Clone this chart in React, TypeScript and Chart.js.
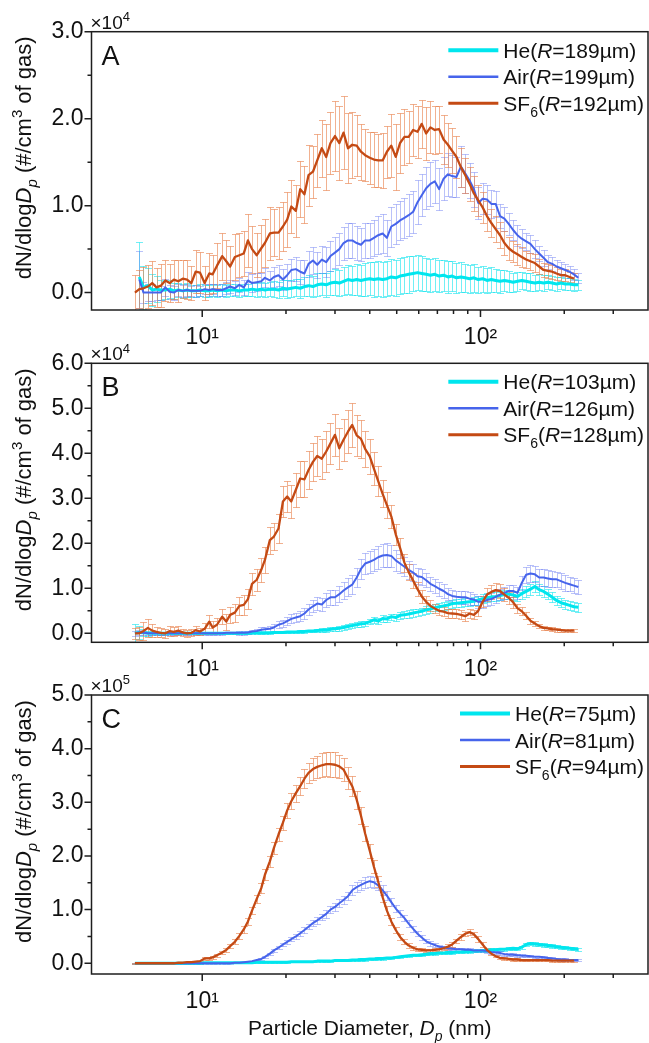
import React, { useEffect, useRef } from 'react';
import { Chart, registerables } from 'chart.js';
Chart.register(...registerables);

// ---------------- data ----------------
const DIAMETER_NM = [
  5.73, 5.94, 6.15, 6.38, 6.61, 6.85, 7.10, 7.37, 7.64, 7.91,
  8.20, 8.51, 8.82, 9.14, 9.47, 9.82, 10.2, 10.6, 10.9, 11.3,
  11.8, 12.2, 12.6, 13.1, 13.6, 14.1, 14.6, 15.1, 15.7, 16.3,
  16.8, 17.5, 18.1, 18.8, 19.5, 20.2, 20.9, 21.7, 22.5, 23.3,
  24.1, 25.0, 25.9, 26.9, 27.9, 28.9, 30.0, 31.1, 32.2, 33.4,
  34.6, 35.9, 37.2, 38.5, 40.0, 41.4, 42.9, 44.5, 46.1, 47.8,
  49.6, 51.4, 53.3, 55.2, 57.3, 59.4, 61.5, 63.8, 66.1, 68.5,
  71.0, 73.7, 76.4, 79.1, 82.0, 85.1, 88.2, 91.4, 94.7, 98.2,
  101.8, 105.5, 109.4, 113.4, 117.6, 121.9, 126.3, 131.0, 135.8, 140.7,
  145.9, 151.2, 156.8, 162.5, 168.5, 174.7, 181.1, 187.7, 194.6, 201.7,
  209.1, 216.7, 224.7,
];

const X_MAJOR_TICKS = [10, 100];
const X_TICK_LABELS = ['10¹', '10²'];
const X_MINOR_TICKS = [20, 30, 40, 50, 60, 70, 80, 90, 200, 300];

const GASES = ['He', 'Air', 'SF6'];
const PANEL_LETTERS = ['A', 'B', 'C'];
const RADII_A = [189, 199, 192];
const RADII_B = [103, 126, 128];
const RADII_C = [75, 81, 94];
const Y_MAX = [3, 6, 5];
const Y_EXPONENT = [4, 4, 5];

// Panel A (x10^4 #/cm3)
const A_HE = [
  null, 0.18, 0.06, 0.08, 0.03, 0.04, 0.03, 0.03, 0.04, 0.02,
  0.03, 0.02, 0.03, 0.02, 0.02, 0.03, 0.02, 0.02, 0.03, 0.02,
  0.03, 0.02, 0.03, 0.03, 0.02, 0.03, 0.03, 0.04, 0.03, 0.04,
  0.03, 0.04, 0.04, 0.03, 0.05, 0.04, 0.05, 0.06, 0.05, 0.07,
  0.08, 0.07, 0.09, 0.10, 0.09, 0.11, 0.12, 0.11, 0.13, 0.15,
  0.14, 0.15, 0.14, 0.15, 0.16, 0.15, 0.16, 0.15, 0.16, 0.18,
  0.17, 0.19, 0.20, 0.21, 0.22, 0.23, 0.22, 0.21, 0.20, 0.21,
  0.19, 0.20, 0.18, 0.19, 0.17, 0.18, 0.17, 0.16, 0.17, 0.15,
  0.16, 0.14, 0.15, 0.14, 0.13, 0.14, 0.13, 0.12, 0.13, 0.14,
  0.13, 0.12, 0.11, 0.12, 0.11, 0.12, 0.11, 0.10, 0.11, 0.10,
  0.10, 0.09, 0.09,
];
const A_AIR = [
  null, 0.15, 0.00, 0.00, 0.00, 0.00, 0.00, 0.06, 0.01, 0.00,
  0.03, 0.02, 0.03, 0.02, 0.02, 0.02, 0.04, 0.03, 0.04, 0.03,
  0.03, 0.05, 0.07, 0.05, 0.09, 0.06, 0.14, 0.11, 0.12, 0.13,
  0.17, 0.14, 0.18, 0.20, 0.15, 0.20, 0.26, 0.27, 0.24, 0.22,
  0.33, 0.37, 0.32, 0.38, 0.35, 0.42, 0.46, 0.50, 0.57, 0.60,
  0.60, 0.57, 0.55, 0.60, 0.60, 0.63, 0.66, 0.68, 0.63, 0.76,
  0.79, 0.83, 0.86, 0.89, 0.93, 1.04, 1.12, 1.20, 1.25, 1.28,
  1.19, 1.31, 1.36, 1.34, 1.33, 1.45, 1.37, 1.29, 1.19, 1.03,
  1.08, 1.07, 1.02, 1.02, 0.88, 0.85, 0.79, 0.72, 0.66, 0.62,
  0.59, 0.56, 0.50, 0.45, 0.40, 0.35, 0.33, 0.30, 0.28, 0.26,
  0.24, 0.21, 0.17,
];
const A_SF6 = [
  0.00, 0.04, 0.05, 0.07, 0.11, 0.06, 0.08, 0.14, 0.11, 0.15,
  0.13, 0.16, 0.15, 0.11, 0.24, 0.23, 0.11, 0.22, 0.21, 0.31,
  0.42, 0.36, 0.30, 0.41, 0.43, 0.45, 0.60, 0.50, 0.43, 0.51,
  0.57, 0.68, 0.69, 0.69, 0.76, 0.84, 0.99, 0.94, 1.19, 1.13,
  1.35, 1.39, 1.52, 1.66, 1.56, 1.72, 1.80, 1.72, 1.84, 1.66,
  1.70, 1.69, 1.62, 1.58, 1.55, 1.53, 1.52, 1.52, 1.62, 1.69,
  1.56, 1.72, 1.79, 1.79, 1.87, 1.85, 1.94, 1.83, 1.90, 1.87,
  1.88, 1.76, 1.70, 1.63, 1.56, 1.44, 1.35, 1.25, 1.14, 1.06,
  0.98, 0.88, 0.80, 0.73, 0.66, 0.57, 0.51, 0.47, 0.44, 0.41,
  0.38, 0.36, 0.34, 0.30, 0.26, 0.25, 0.24, 0.22, 0.20, 0.20,
  0.18, 0.16, null,
];
const A_HE_ERR = [
  null, 0.40, 0.25, 0.20, 0.18, 0.15, 0.12, 0.10, 0.10, 0.09,
  0.08, 0.08, 0.08, 0.07, 0.07, 0.07, 0.07, 0.07, 0.07, 0.07,
  0.07, 0.07, 0.07, 0.07, 0.07, 0.07, 0.07, 0.08, 0.08, 0.08,
  0.08, 0.08, 0.09, 0.09, 0.09, 0.10, 0.10, 0.10, 0.11, 0.11,
  0.12, 0.12, 0.13, 0.13, 0.14, 0.14, 0.15, 0.15, 0.16, 0.17,
  0.17, 0.18, 0.18, 0.19, 0.19, 0.20, 0.20, 0.20, 0.20, 0.21,
  0.21, 0.21, 0.21, 0.21, 0.20, 0.20, 0.20, 0.19, 0.19, 0.19,
  0.18, 0.18, 0.18, 0.17, 0.17, 0.17, 0.16, 0.16, 0.16, 0.15,
  0.15, 0.14, 0.14, 0.13, 0.13, 0.12, 0.12, 0.11, 0.11, 0.10,
  0.10, 0.10, 0.09, 0.09, 0.09, 0.08, 0.08, 0.08, 0.07, 0.07,
  0.07, 0.07, 0.06,
];
const A_AIR_ERR = [
  null, 0.33, 0.12, 0.10, 0.10, 0.08, 0.08, 0.10, 0.08, 0.08,
  0.07, 0.07, 0.07, 0.06, 0.07, 0.06, 0.06, 0.07, 0.06, 0.07,
  0.07, 0.07, 0.08, 0.08, 0.08, 0.09, 0.10, 0.10, 0.10, 0.10,
  0.11, 0.11, 0.12, 0.12, 0.12, 0.13, 0.13, 0.14, 0.14, 0.15,
  0.15, 0.16, 0.15, 0.16, 0.17, 0.17, 0.18, 0.18, 0.19, 0.20,
  0.20, 0.20, 0.19, 0.20, 0.20, 0.21, 0.22, 0.22, 0.21, 0.23,
  0.23, 0.22, 0.23, 0.24, 0.24, 0.25, 0.24, 0.24, 0.25, 0.25,
  0.24, 0.25, 0.25, 0.24, 0.23, 0.24, 0.22, 0.20, 0.20, 0.18,
  0.18, 0.17, 0.16, 0.15, 0.14, 0.14, 0.13, 0.12, 0.12, 0.11,
  0.10, 0.10, 0.10, 0.09, 0.09, 0.08, 0.08, 0.08, 0.07, 0.07,
  0.07, 0.06, 0.06,
];
const A_SF6_ERR = [
  0.20, 0.22, 0.25, 0.25, 0.25, 0.22, 0.25, 0.24, 0.22, 0.22,
  0.24, 0.22, 0.22, 0.20, 0.25, 0.24, 0.20, 0.24, 0.22, 0.26,
  0.27, 0.25, 0.24, 0.26, 0.25, 0.26, 0.30, 0.27, 0.25, 0.27,
  0.28, 0.30, 0.27, 0.30, 0.28, 0.32, 0.30, 0.30, 0.32, 0.33,
  0.35, 0.30, 0.30, 0.33, 0.38, 0.36, 0.40, 0.42, 0.42, 0.40,
  0.38, 0.35, 0.32, 0.30, 0.30, 0.32, 0.30, 0.32, 0.30, 0.36,
  0.38, 0.35, 0.32, 0.30, 0.30, 0.30, 0.28, 0.30, 0.30, 0.28,
  0.27, 0.28, 0.25, 0.26, 0.24, 0.22, 0.20, 0.20, 0.20, 0.18,
  0.18, 0.17, 0.16, 0.15, 0.15, 0.14, 0.13, 0.12, 0.12, 0.11,
  0.10, 0.10, 0.10, 0.09, 0.08, 0.08, 0.08, 0.07, 0.07, 0.07,
  0.06, 0.06, null,
];

// Panel B (x10^4 #/cm3)
const B_HE = [
  0.00, 0.02, 0.01, 0.00, 0.00, 0.00, 0.00, 0.00, 0.00, 0.00,
  0.00, 0.00, 0.00, 0.00, 0.00, 0.00, 0.00, 0.00, 0.00, 0.00,
  0.00, 0.00, 0.00, 0.00, 0.00, 0.00, 0.00, 0.01, 0.01, 0.01,
  0.01, 0.01, 0.02, 0.02, 0.02, 0.03, 0.03, 0.03, 0.04, 0.04,
  0.05, 0.05, 0.06, 0.07, 0.07, 0.09, 0.10, 0.11, 0.13, 0.15,
  0.17, 0.19, 0.21, 0.22, 0.26, 0.30, 0.27, 0.33, 0.32, 0.37,
  0.35, 0.40, 0.41, 0.43, 0.45, 0.47, 0.49, 0.52, 0.54, 0.57,
  0.59, 0.61, 0.63, 0.66, 0.67, 0.68, 0.69, 0.70, 0.71, 0.74,
  0.77, 0.79, 0.81, 0.82, 0.84, 0.86, 0.87, 0.85, 0.82, 0.88,
  0.93, 0.98, 1.04, 0.97, 0.93, 0.87, 0.80, 0.73, 0.68, 0.65,
  0.62, 0.59, 0.58,
];
const B_AIR = [
  0.00, 0.02, 0.01, 0.00, 0.00, 0.00, 0.00, 0.00, 0.00, 0.00,
  0.00, 0.00, 0.00, 0.00, 0.00, 0.00, 0.00, 0.00, 0.00, 0.00,
  0.00, 0.01, 0.01, 0.01, 0.01, 0.01, 0.02, 0.04, 0.05, 0.08,
  0.09, 0.10, 0.13, 0.19, 0.22, 0.27, 0.32, 0.35, 0.38, 0.44,
  0.53, 0.60, 0.66, 0.64, 0.74, 0.80, 0.80, 0.87, 0.95, 1.02,
  1.08, 1.24, 1.43, 1.55, 1.59, 1.63, 1.69, 1.73, 1.74, 1.72,
  1.62, 1.55, 1.48, 1.41, 1.35, 1.27, 1.25, 1.18, 1.10, 1.05,
  0.99, 0.94, 0.87, 0.83, 0.81, 0.80, 0.80, 0.77, 0.75, 0.70,
  0.70, 0.74, 0.76, 0.81, 0.86, 0.90, 0.94, 0.94, 0.90, 1.12,
  1.30, 1.33, 1.31, 1.24, 1.24, 1.22, 1.20, 1.20, 1.16, 1.12,
  1.09, 1.06, 1.03,
];
const B_SF6 = [
  0.00, 0.00, 0.05, 0.12, 0.06, 0.03, 0.01, 0.00, 0.05, 0.03,
  0.06, 0.02, 0.00, 0.01, 0.07, 0.04, 0.10, 0.26, 0.13, 0.19,
  0.37, 0.26, 0.41, 0.46, 0.61, 0.63, 0.76, 1.10, 1.19, 1.41,
  1.63, 2.07, 2.15, 2.33, 2.93, 3.04, 2.93, 3.19, 3.44, 3.42,
  3.63, 3.81, 3.94, 3.88, 4.04, 4.22, 4.41, 4.11, 4.30, 4.48,
  4.63, 4.40, 4.32, 4.10, 3.93, 3.66, 3.38, 3.10, 2.85, 2.60,
  2.20, 1.90, 1.57, 1.36, 1.17, 0.98, 0.82, 0.70, 0.61, 0.55,
  0.50, 0.48, 0.45, 0.44, 0.43, 0.41, 0.38, 0.44, 0.41, 0.50,
  0.70, 0.86, 0.92, 0.96, 0.94, 0.86, 0.79, 0.69, 0.56, 0.49,
  0.39, 0.28, 0.22, 0.16, 0.12, 0.11, 0.09, 0.08, 0.07, 0.06,
  0.06, 0.06, null,
];
const B_HE_ERR = [
  0.20, 0.15, 0.08, 0.05, 0.04, 0.03, 0.03, 0.03, 0.02, 0.02,
  0.02, 0.02, 0.02, 0.02, 0.02, 0.02, 0.02, 0.02, 0.02, 0.02,
  0.02, 0.02, 0.02, 0.02, 0.02, 0.02, 0.02, 0.02, 0.02, 0.02,
  0.02, 0.02, 0.02, 0.02, 0.02, 0.03, 0.03, 0.03, 0.03, 0.03,
  0.03, 0.03, 0.04, 0.04, 0.04, 0.04, 0.05, 0.05, 0.05, 0.05,
  0.05, 0.06, 0.06, 0.06, 0.06, 0.07, 0.07, 0.07, 0.07, 0.07,
  0.07, 0.08, 0.08, 0.08, 0.08, 0.08, 0.08, 0.08, 0.08, 0.08,
  0.08, 0.09, 0.09, 0.09, 0.09, 0.09, 0.09, 0.09, 0.09, 0.10,
  0.10, 0.10, 0.10, 0.10, 0.10, 0.10, 0.10, 0.10, 0.10, 0.11,
  0.12, 0.12, 0.12, 0.12, 0.12, 0.11, 0.11, 0.11, 0.10, 0.10,
  0.10, 0.10, 0.10,
];
const B_AIR_ERR = [
  0.05, 0.06, 0.05, 0.04, 0.04, 0.03, 0.03, 0.03, 0.03, 0.03,
  0.03, 0.03, 0.03, 0.03, 0.03, 0.03, 0.03, 0.03, 0.03, 0.03,
  0.03, 0.03, 0.03, 0.03, 0.04, 0.04, 0.04, 0.04, 0.05, 0.05,
  0.06, 0.06, 0.07, 0.08, 0.08, 0.09, 0.10, 0.10, 0.11, 0.12,
  0.12, 0.13, 0.14, 0.15, 0.15, 0.16, 0.17, 0.18, 0.19, 0.20,
  0.21, 0.22, 0.23, 0.24, 0.25, 0.25, 0.26, 0.26, 0.26, 0.25,
  0.24, 0.22, 0.21, 0.20, 0.19, 0.18, 0.17, 0.16, 0.16, 0.15,
  0.15, 0.15, 0.14, 0.14, 0.14, 0.14, 0.14, 0.14, 0.13, 0.13,
  0.13, 0.13, 0.13, 0.13, 0.13, 0.13, 0.13, 0.13, 0.13, 0.15,
  0.18, 0.18, 0.18, 0.18, 0.18, 0.18, 0.18, 0.17, 0.17, 0.17,
  0.16, 0.16, 0.16,
];
const B_SF6_ERR = [
  0.12, 0.15, 0.20, 0.20, 0.15, 0.12, 0.10, 0.10, 0.12, 0.10,
  0.10, 0.08, 0.08, 0.08, 0.10, 0.08, 0.12, 0.15, 0.14, 0.16,
  0.16, 0.18, 0.18, 0.20, 0.20, 0.22, 0.22, 0.24, 0.25, 0.26,
  0.28, 0.30, 0.30, 0.32, 0.35, 0.35, 0.36, 0.38, 0.40, 0.40,
  0.42, 0.42, 0.44, 0.44, 0.45, 0.46, 0.46, 0.45, 0.46, 0.48,
  0.48, 0.45, 0.42, 0.40, 0.38, 0.36, 0.33, 0.30, 0.28, 0.26,
  0.24, 0.22, 0.20, 0.18, 0.16, 0.15, 0.14, 0.13, 0.12, 0.10,
  0.10, 0.10, 0.10, 0.10, 0.10, 0.10, 0.10, 0.10, 0.10, 0.11,
  0.12, 0.14, 0.15, 0.15, 0.15, 0.14, 0.13, 0.12, 0.10, 0.09,
  0.08, 0.07, 0.06, 0.05, 0.05, 0.04, 0.04, 0.04, 0.03, 0.03,
  0.03, 0.03, null,
];

// Panel C (x10^5 #/cm3)
const C_HE = [
  0.00, 0.00, 0.00, 0.00, 0.00, 0.00, 0.00, 0.00, 0.00, 0.00,
  0.00, 0.00, 0.00, 0.00, 0.00, 0.00, 0.01, 0.01, 0.01, 0.01,
  0.01, 0.01, 0.01, 0.01, 0.01, 0.01, 0.01, 0.01, 0.02, 0.02,
  0.02, 0.02, 0.02, 0.02, 0.02, 0.02, 0.03, 0.03, 0.03, 0.03,
  0.03, 0.03, 0.04, 0.04, 0.04, 0.04, 0.05, 0.05, 0.05, 0.05,
  0.06, 0.06, 0.07, 0.07, 0.08, 0.08, 0.09, 0.09, 0.10, 0.10,
  0.11, 0.12, 0.13, 0.14, 0.15, 0.15, 0.16, 0.17, 0.18, 0.18,
  0.19, 0.19, 0.20, 0.20, 0.21, 0.21, 0.22, 0.22, 0.23, 0.23,
  0.24, 0.24, 0.25, 0.25, 0.26, 0.26, 0.27, 0.28, 0.27, 0.30,
  0.35, 0.37, 0.36, 0.35, 0.34, 0.33, 0.32, 0.31, 0.30, 0.29,
  0.28, 0.27, 0.26,
];
const C_AIR = [
  0.00, 0.00, 0.00, 0.00, 0.00, 0.00, 0.00, 0.00, 0.00, 0.00,
  0.00, 0.00, 0.00, 0.00, 0.00, 0.00, 0.00, 0.00, 0.00, 0.00,
  0.00, 0.00, 0.00, 0.01, 0.01, 0.02, 0.03, 0.04, 0.06, 0.08,
  0.12, 0.18, 0.24, 0.29, 0.35, 0.40, 0.45, 0.50, 0.56, 0.62,
  0.68, 0.75, 0.80, 0.86, 0.92, 1.00, 1.05, 1.12, 1.18, 1.25,
  1.36, 1.42, 1.46, 1.50, 1.53, 1.51, 1.45, 1.36, 1.26, 1.14,
  1.02, 0.93, 0.84, 0.74, 0.64, 0.55, 0.48, 0.41, 0.37, 0.34,
  0.31, 0.30, 0.28, 0.27, 0.26, 0.26, 0.25, 0.25, 0.24, 0.24,
  0.24, 0.23, 0.21, 0.20, 0.19, 0.17, 0.16, 0.16, 0.15, 0.14,
  0.14, 0.13, 0.12, 0.12, 0.11, 0.10, 0.09, 0.08, 0.07, 0.07,
  0.06, 0.06, 0.06,
];
const C_SF6 = [
  0.00, 0.00, 0.00, 0.00, 0.00, 0.00, 0.00, 0.00, 0.00, 0.00,
  0.01, 0.01, 0.02, 0.02, 0.03, 0.04, 0.09, 0.09, 0.11, 0.15,
  0.20, 0.25, 0.32, 0.40, 0.51, 0.63, 0.78, 0.98, 1.20, 1.40,
  1.65, 1.90, 2.15, 2.40, 2.62, 2.85, 3.02, 3.17, 3.30, 3.44,
  3.55, 3.62, 3.66, 3.69, 3.71, 3.71, 3.70, 3.67, 3.61, 3.45,
  3.30, 3.05, 2.75, 2.42, 2.10, 1.80, 1.52, 1.23, 0.98, 0.78,
  0.62, 0.49, 0.40, 0.33, 0.29, 0.26, 0.25, 0.24, 0.24, 0.25,
  0.26, 0.28, 0.31, 0.35, 0.42, 0.49, 0.55, 0.58, 0.54, 0.45,
  0.35, 0.25, 0.18, 0.13, 0.10, 0.09, 0.08, 0.07, 0.07, 0.06,
  0.06, 0.06, 0.06, 0.06, 0.06, 0.06, 0.05, 0.05, 0.05, 0.05,
  0.05, 0.05, null,
];
const C_HE_ERR = [
  0.01, 0.01, 0.01, 0.01, 0.01, 0.01, 0.01, 0.01, 0.01, 0.01,
  0.01, 0.01, 0.01, 0.01, 0.01, 0.01, 0.01, 0.01, 0.01, 0.01,
  0.01, 0.01, 0.01, 0.01, 0.01, 0.01, 0.01, 0.01, 0.01, 0.01,
  0.01, 0.01, 0.01, 0.01, 0.01, 0.01, 0.01, 0.01, 0.01, 0.01,
  0.01, 0.01, 0.01, 0.01, 0.01, 0.01, 0.01, 0.01, 0.01, 0.01,
  0.02, 0.02, 0.02, 0.02, 0.02, 0.02, 0.02, 0.02, 0.02, 0.02,
  0.02, 0.02, 0.02, 0.02, 0.02, 0.02, 0.02, 0.02, 0.02, 0.02,
  0.02, 0.02, 0.02, 0.02, 0.02, 0.02, 0.02, 0.02, 0.02, 0.02,
  0.03, 0.03, 0.03, 0.03, 0.03, 0.03, 0.03, 0.03, 0.03, 0.03,
  0.03, 0.03, 0.03, 0.03, 0.03, 0.03, 0.03, 0.03, 0.03, 0.03,
  0.03, 0.03, 0.03,
];
const C_AIR_ERR = [
  0.01, 0.01, 0.01, 0.01, 0.01, 0.01, 0.01, 0.01, 0.01, 0.01,
  0.01, 0.01, 0.01, 0.01, 0.01, 0.01, 0.01, 0.01, 0.01, 0.01,
  0.01, 0.01, 0.01, 0.01, 0.01, 0.01, 0.01, 0.01, 0.01, 0.01,
  0.02, 0.02, 0.03, 0.03, 0.03, 0.04, 0.04, 0.04, 0.05, 0.05,
  0.05, 0.06, 0.06, 0.06, 0.07, 0.07, 0.07, 0.08, 0.08, 0.08,
  0.09, 0.09, 0.09, 0.10, 0.10, 0.10, 0.09, 0.09, 0.08, 0.08,
  0.07, 0.07, 0.06, 0.06, 0.05, 0.05, 0.05, 0.04, 0.04, 0.04,
  0.03, 0.03, 0.03, 0.03, 0.03, 0.03, 0.03, 0.03, 0.03, 0.03,
  0.03, 0.03, 0.03, 0.03, 0.03, 0.03, 0.03, 0.03, 0.03, 0.03,
  0.02, 0.02, 0.02, 0.02, 0.02, 0.02, 0.02, 0.02, 0.02, 0.02,
  0.02, 0.02, 0.02,
];
const C_SF6_ERR = [
  0.01, 0.01, 0.01, 0.01, 0.01, 0.01, 0.01, 0.01, 0.01, 0.01,
  0.01, 0.01, 0.01, 0.01, 0.01, 0.01, 0.02, 0.02, 0.03, 0.03,
  0.03, 0.04, 0.04, 0.05, 0.05, 0.06, 0.07, 0.07, 0.08, 0.09,
  0.10, 0.10, 0.11, 0.12, 0.13, 0.14, 0.15, 0.16, 0.17, 0.18,
  0.19, 0.20, 0.21, 0.22, 0.22, 0.23, 0.23, 0.22, 0.21, 0.20,
  0.19, 0.17, 0.16, 0.14, 0.13, 0.12, 0.10, 0.09, 0.08, 0.07,
  0.06, 0.05, 0.05, 0.04, 0.04, 0.03, 0.03, 0.03, 0.03, 0.03,
  0.03, 0.03, 0.04, 0.04, 0.04, 0.05, 0.05, 0.06, 0.05, 0.05,
  0.04, 0.03, 0.03, 0.02, 0.02, 0.02, 0.02, 0.02, 0.02, 0.02,
  0.02, 0.02, 0.02, 0.02, 0.02, 0.02, 0.02, 0.02, 0.02, 0.02,
  0.02, 0.02, null,
];

// ---------------- styles ----------------
const FAMILY = '"Liberation Sans", Arial, Helvetica, sans-serif';
const TEXT_COLOR = '#111111';
const AXIS_COLOR = '#1e1e1e';
const LINE_COLORS = ['#00E6EE', '#4664EB', '#C44A14'];
const ERR_COLORS = ['rgba(0,226,236,0.55)', 'rgba(90,110,240,0.42)', 'rgba(232,125,70,0.6)'];
const LINE_WIDTHS = [3, 2, 2.3];
const LEGEND_WIDTHS = [4, 2.5, 3];
const TICK_FONT = 23;

const CANVAS_W = 649;
const CANVAS_TOP = [0, 330, 665];
const CANVAS_H = [350, 360, 378];
const PLOT_TOP = [31.7, 33.3, 30];
const PLOT_BOTTOM = [310, 312.3, 309];
const PLOT_LEFT = 91.5;
const PLOT_RIGHT = 648;

const PANEL_DATA = [
  { values: [A_HE, A_AIR, A_SF6], errors: [A_HE_ERR, A_AIR_ERR, A_SF6_ERR], radii: RADII_A },
  { values: [B_HE, B_AIR, B_SF6], errors: [B_HE_ERR, B_AIR_ERR, B_SF6_ERR], radii: RADII_B },
  { values: [C_HE, C_AIR, C_SF6], errors: [C_HE_ERR, C_AIR_ERR, C_SF6_ERR], radii: RADII_C },
];

type Seg = { t: string; it?: boolean; sub?: boolean; sup?: boolean };

function segFont(s: Seg, size: number) {
  const sz = s.sub || s.sup ? Math.round(size * 0.66) : size;
  return `${s.it ? 'italic ' : ''}${sz}px ${FAMILY}`;
}
function measureRich(ctx: CanvasRenderingContext2D, segs: Seg[], size: number) {
  let w = 0;
  for (const s of segs) {
    ctx.font = segFont(s, size);
    w += ctx.measureText(s.t).width;
  }
  return w;
}
function drawRich(ctx: CanvasRenderingContext2D, segs: Seg[], x: number, y: number, size: number) {
  let cx = x;
  ctx.textAlign = 'left';
  ctx.textBaseline = 'alphabetic';
  for (const s of segs) {
    ctx.font = segFont(s, size);
    const dy = s.sub ? size * 0.28 : s.sup ? -size * 0.4 : 0;
    ctx.fillText(s.t, cx, y + dy);
    cx += ctx.measureText(s.t).width;
  }
}
function legendSegs(gas: string, r: number): Seg[] {
  const head: Seg[] = gas === 'SF6' ? [{ t: 'SF' }, { t: '6', sub: true }, { t: '(' }] : [{ t: gas + '(' }];
  return [...head, { t: 'R', it: true }, { t: `=${r}µm)` }];
}
const Y_TITLE: Seg[] = [
  { t: 'dN/dlog' }, { t: 'D', it: true }, { t: 'p', it: true, sub: true },
  { t: ' (#/cm' }, { t: '3', sup: true }, { t: ' of gas)' },
];
const X_TITLE: Seg[] = [
  { t: 'Particle Diameter, ' }, { t: 'D', it: true }, { t: 'p', it: true, sub: true }, { t: ' (nm)' },
];

function makeDecor(idx: number) {
  const pd = PANEL_DATA[idx];
  return {
    id: 'decor' + idx,
    beforeDatasetsDraw(chart: any) {
      const { ctx, chartArea: a } = chart;
      const x = chart.scales.x, y = chart.scales.y;
      ctx.save();
      ctx.beginPath();
      ctx.rect(a.left, a.top, a.right - a.left, a.bottom - a.top);
      ctx.clip();
      for (let k = 0; k < 3; k++) {
        const vals = pd.values[k], errs = pd.errors[k];
        ctx.strokeStyle = ERR_COLORS[k];
        ctx.lineWidth = 1;
        ctx.beginPath();
        DIAMETER_NM.forEach((d, i) => {
          const v = vals[i], e = errs[i];
          if (v == null || e == null) return;
          const px = Math.round(x.getPixelForValue(d)) + 0.5;
          const y1 = Math.round(y.getPixelForValue(v + e)) + 0.5;
          const y2 = Math.round(y.getPixelForValue(v - e)) + 0.5;
          ctx.moveTo(px, y1); ctx.lineTo(px, y2);
          ctx.moveTo(px - 3.5, y1); ctx.lineTo(px + 3.5, y1);
          ctx.moveTo(px - 3.5, y2); ctx.lineTo(px + 3.5, y2);
        });
        ctx.stroke();
      }
      ctx.restore();
    },
    afterDraw(chart: any) {
      const { ctx, chartArea: a } = chart;
      const x = chart.scales.x, y = chart.scales.y;
      ctx.save();
      // frame
      ctx.strokeStyle = AXIS_COLOR;
      ctx.lineWidth = 1.5;
      ctx.strokeRect(a.left, a.top, a.right - a.left, a.bottom - a.top);
      // ticks
      ctx.beginPath();
      for (let v = 0; v <= Y_MAX[idx] + 1e-9; v += 0.5) {
        const py = y.getPixelForValue(v);
        const len = Math.abs(v - Math.round(v)) < 1e-6 ? 7 : 4;
        ctx.moveTo(a.left - len, py); ctx.lineTo(a.left, py);
      }
      X_MAJOR_TICKS.forEach((v) => {
        const px = x.getPixelForValue(v);
        ctx.moveTo(px, a.bottom); ctx.lineTo(px, a.bottom + 7);
      });
      X_MINOR_TICKS.forEach((v) => {
        const px = x.getPixelForValue(v);
        ctx.moveTo(px, a.bottom); ctx.lineTo(px, a.bottom + 4);
      });
      ctx.stroke();

      ctx.fillStyle = TEXT_COLOR;
      // panel letter
      ctx.font = `27px ${FAMILY}`;
      ctx.textAlign = 'left';
      ctx.textBaseline = 'alphabetic';
      ctx.fillText(PANEL_LETTERS[idx], a.left + 10, a.top + 33);
      // exponent
      drawRich(ctx, [{ t: '×10' }, { t: String(Y_EXPONENT[idx]), sup: true }], a.left - 1, a.top - 3, 19);
      // legend
      const segsList = GASES.map((g, k) => legendSegs(g, pd.radii[k]));
      const maxW = Math.max(...segsList.map((s) => measureRich(ctx, s, 21)));
      const tx = a.right - 4 - maxW;
      segsList.forEach((segs, k) => {
        const cy = a.top + 18.5 + k * 26.5;
        ctx.strokeStyle = LINE_COLORS[k];
        ctx.lineWidth = LEGEND_WIDTHS[k];
        ctx.beginPath();
        ctx.moveTo(tx - 55, cy); ctx.lineTo(tx - 5, cy);
        ctx.stroke();
        ctx.fillStyle = TEXT_COLOR;
        drawRich(ctx, segs, tx, cy + 7.5, 21);
      });
      // y title
      ctx.save();
      ctx.translate(31, (a.top + a.bottom) / 2 - 13);
      ctx.rotate(-Math.PI / 2);
      const tw = measureRich(ctx, Y_TITLE, 22);
      drawRich(ctx, Y_TITLE, -tw / 2, 0, 22);
      ctx.restore();
      // x title (last panel only)
      if (idx === 2) {
        const w = measureRich(ctx, X_TITLE, 21);
        drawRich(ctx, X_TITLE, (a.left + a.right) / 2 - w / 2, a.bottom + 61, 21);
      }
      ctx.restore();
    },
  };
}

function Panel({ idx }: { idx: number }) {
  const ref = useRef<HTMLCanvasElement | null>(null);
  useEffect(() => {
    if (!ref.current) return;
    const pd = PANEL_DATA[idx];
    const h = CANVAS_H[idx];
    const datasets = GASES.map((g, k) => ({
      label: g,
      data: DIAMETER_NM.map((d, i) => ({ x: d, y: pd.values[k][i] })),
      borderColor: LINE_COLORS[k],
      backgroundColor: LINE_COLORS[k],
      borderWidth: LINE_WIDTHS[k],
      pointRadius: 0,
      tension: 0,
      fill: false,
      borderJoinStyle: 'round' as const,
      order: 2 - k,
    }));
    const chart = new Chart(ref.current, {
      type: 'line',
      data: { datasets },
      options: {
        responsive: false,
        animation: false,
        devicePixelRatio: 1,
        layout: { padding: { left: 0, right: CANVAS_W - PLOT_RIGHT, top: PLOT_TOP[idx], bottom: 0 } },
        plugins: { legend: { display: false }, tooltip: { enabled: false } },
        scales: {
          x: {
            type: 'logarithmic',
            min: 4,
            max: 400,
            bounds: 'data',
            grid: { display: false, drawTicks: false },
            border: { display: false },
            ticks: {
              autoSkip: false,
              maxRotation: 0,
              padding: 14,
              color: TEXT_COLOR,
              font: { family: FAMILY, size: TICK_FONT },
              callback: (v: any) => {
                const j = X_MAJOR_TICKS.indexOf(Number(v));
                return j >= 0 ? X_TICK_LABELS[j] : '';
              },
            },
            afterBuildTicks: (s: any) => {
              s.ticks = X_MAJOR_TICKS.map((v) => ({ value: v }));
            },
            afterFit: (s: any) => {
              s.height = h - PLOT_BOTTOM[idx];
            },
          },
          y: {
            type: 'linear',
            min: -0.2,
            max: Y_MAX[idx],
            bounds: 'data',
            grid: { display: false, drawTicks: false },
            border: { display: false },
            ticks: {
              padding: 8,
              color: TEXT_COLOR,
              font: { family: FAMILY, size: TICK_FONT },
              callback: (v: any) => Number(v).toFixed(1),
            },
            afterBuildTicks: (s: any) => {
              const t = [];
              for (let v = 0; v <= Y_MAX[idx]; v++) t.push({ value: v });
              s.ticks = t;
            },
            afterFit: (s: any) => {
              s.width = PLOT_LEFT;
            },
          },
        },
      } as any,
      plugins: [makeDecor(idx)],
    });
    return () => chart.destroy();
  }, [idx]);
  return (
    <canvas
      ref={ref}
      width={CANVAS_W}
      height={CANVAS_H[idx]}
      style={{ position: 'absolute', left: 0, top: CANVAS_TOP[idx], width: CANVAS_W, height: CANVAS_H[idx] }}
    />
  );
}

export default function App() {
  return (
    <div style={{ position: 'absolute', left: 0, top: 0, width: 649, height: 1043, background: '#ffffff', overflow: 'hidden' }}>
      <Panel idx={0} />
      <Panel idx={1} />
      <Panel idx={2} />
    </div>
  );
}
